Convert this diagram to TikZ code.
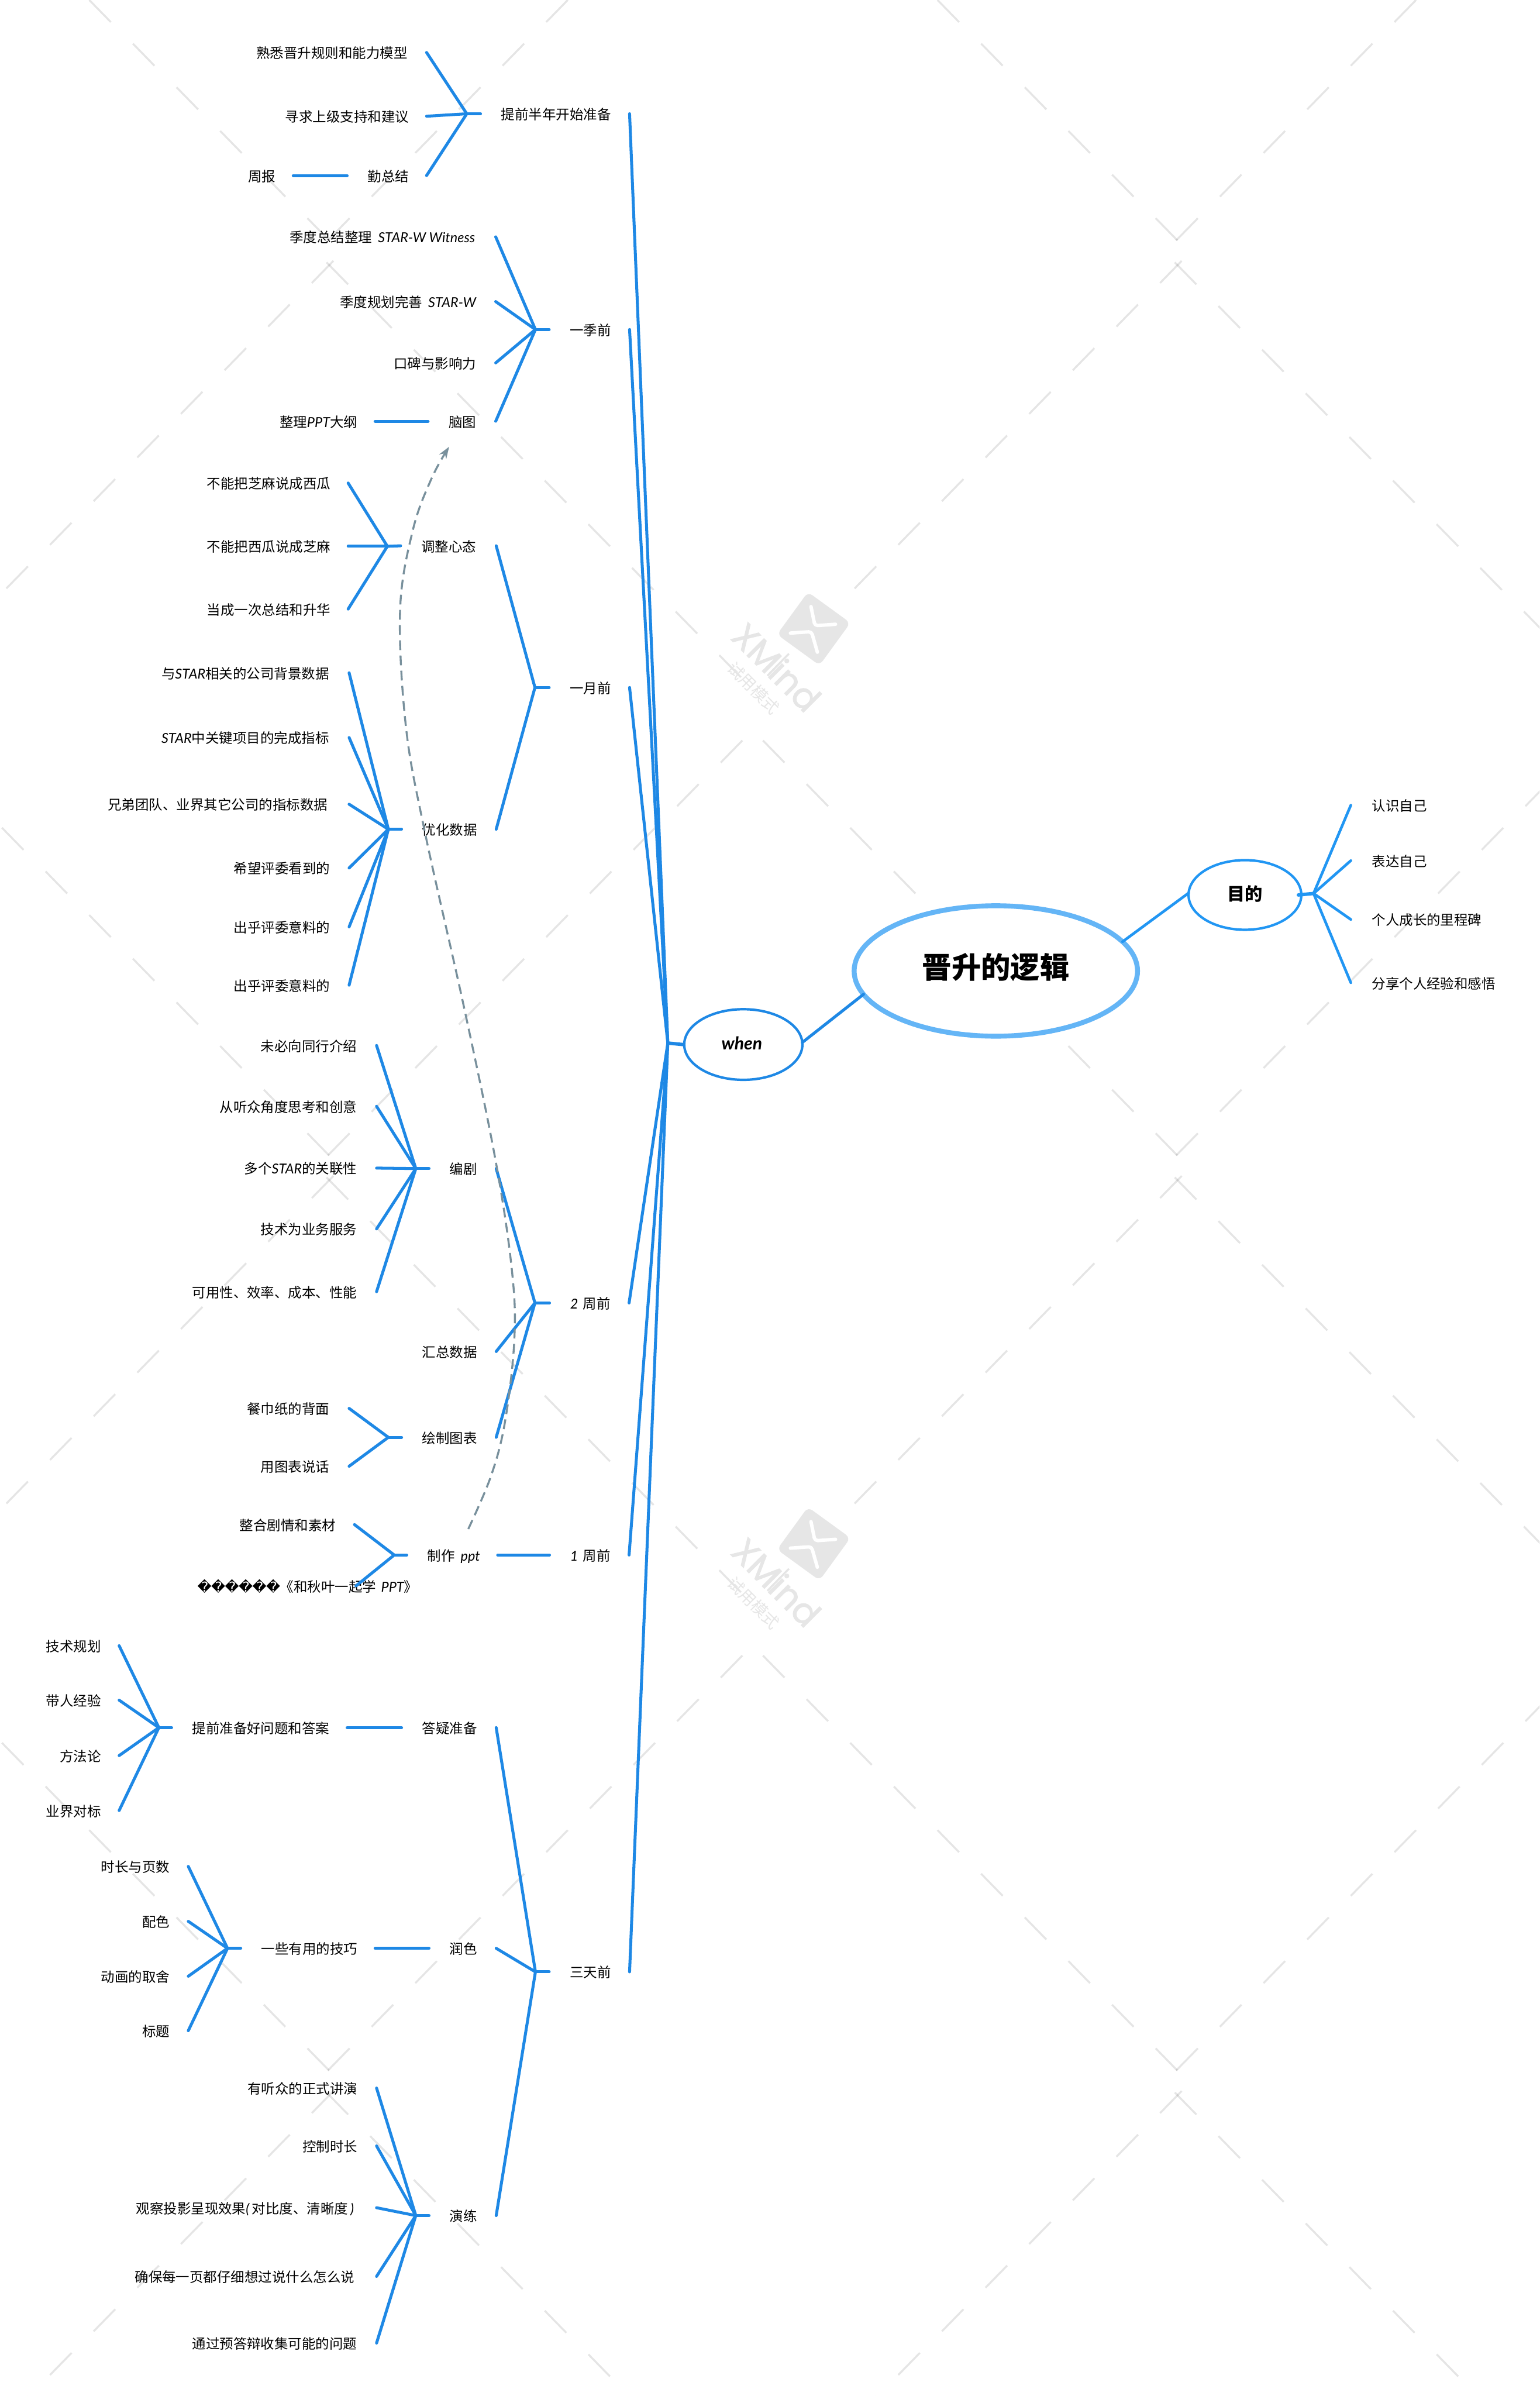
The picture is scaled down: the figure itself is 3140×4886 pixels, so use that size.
\documentclass[tikz,border=0pt]{standalone}
\usepackage{fontspec}
\setmainfont{Noto Sans CJK SC}
\newfontfamily\latfont{Lato}
\newfontfamily\dvfont{DejaVu Sans}
\newfontfamily\popfont[FakeBold=1.5]{Poppins}
\usetikzlibrary{shapes.geometric,arrows.meta}
\newcommand{\ltn}[1]{{\latfont\itshape #1}}
\newcommand{\unk}{\makebox[28pt]{\dvfont\symbol{"FFFD}}}
\tikzset{
  x=1pt,y=1pt,
  lab/.style={anchor=east,inner sep=0pt,outer sep=0pt,font=\fontsize{28pt}{30pt}\selectfont,text height=27.5pt,text depth=3.5pt,text=black,xshift=2pt},
  rlab/.style={lab,anchor=west},
  br/.style={line width=6pt,line cap=round,draw=branchblue},
  rbr/.style={br,line width=5.5pt,draw=rightblue},
  wm/.style={line width=4pt,draw=black,opacity=.1},
  wmtxt/.style={text=wmgray,inner sep=0pt},
  topic/.style={ellipse,draw=branchblue,line width=5pt,fill=white,inner sep=0pt,outer sep=0pt,align=center},
  rel/.style={line width=4pt,draw=relgray,dash pattern=on 20pt off 11pt,-{Stealth[length=24pt,width=17pt]}}
}
\definecolor{branchblue}{HTML}{1E88E5}
\definecolor{rightblue}{HTML}{2196F3}
\definecolor{rootblue}{HTML}{64B5F6}
\definecolor{relgray}{HTML}{78909C}
\definecolor{wmgray}{HTML}{E6E6E6}
% name, right x, y, line end x, junction, text
\newcommand{\kid}[6]{\node[lab] (#1) at (#2,-#3) {#6};
  \draw[br] ([xshift={#4-#2-2}]#1.east) -- (#5);}
\newcommand{\stub}[2]{\draw[br] ([xshift=-42]#1.west) -- (#2);}
\newcommand{\lnk}[2]{\draw[br] ([xshift=-42]#1.west) -- ([xshift=36]#2.east);}
\newcommand{\wlogo}[1]{%
  \begin{scope}[yshift=-#1]
    \node[rectangle,rounded corners=11pt,fill=wmgray,minimum size=107pt,inner sep=0pt,rotate=-36] (logo#1) at (1659.6,-1282) {};
    \draw[line width=7pt,line cap=round,line join=round,draw=white,rounded corners=6pt] (1654,-1237) -- (1662,-1276) -- (1704,-1273);
    \draw[line width=7pt,line cap=round,line join=round,draw=white,rounded corners=6pt] (1612,-1291) -- (1655,-1288) -- (1667,-1330);
    \node[wmtxt,rotate=-45,font=\popfont\fontsize{72pt}{74pt}\selectfont] (xm#1) at (1584,-1360) {XMind};
    \node[wmtxt,rotate=-45,font=\fontsize{33pt}{35pt}\selectfont] (try#1) at (1537,-1403) {试用模式};
  \end{scope}}
\begin{document}
\begin{tikzpicture}
\useasboundingbox (0,0) rectangle (3140,-4886);
\fill[white] (0,0) rectangle (3140,-4886);
\begin{scope}
\clip (0,0) rectangle (3140,-4886);
% watermark dashes, tile 1730 x 1866
\foreach \m in {-1,0,1}{
 \foreach \n in {-1,0,1,2}{
  \foreach \k in {0,...,9}{
   \draw[wm] ({666+89*\k+1730*\m},{-(535+89*\k+1866*\n)}) -- ++(44,-45);
   \draw[wm] ({666+89*(\k+10)+1730*\m},{-(620+89*(\k+10)+1866*\n)}) -- ++(44,-45);
  }}}
\foreach \m in {0,1}{
 \foreach \n in {0,1,2}{
  \foreach \k in {0,...,9}{
   \draw[wm] ({713+89*\k+1730*\m},{-(445-89*\k+1866*\n)}) -- ++(-44,-45);
   \draw[wm] ({680-89*\k+1730*\m},{-(532+89*\k+1866*\n)}) -- ++(-44,-45);
  }}}
\wlogo{0}
\wlogo{1866}
\end{scope}

% main topics
\node[topic,draw=rootblue,line width=10pt,minimum width=578pt,minimum height=266pt,font=\bfseries\fontsize{60pt}{62pt}\selectfont,text height=44pt,text depth=14pt] (root) at (2031,-1980) {晋升的逻辑};
\node[topic,draw=rightblue,minimum width=230pt,minimum height=142pt,font=\bfseries\fontsize{36pt}{38pt}\selectfont,text height=28pt,text depth=6pt] (goal) at (2539,-1825) {目的};
\node[topic,minimum width=241pt,minimum height=144pt,font=\latfont\bfseries\itshape\fontsize{36pt}{38pt}\selectfont,text height=30pt,text depth=8pt] (when) at (1516,-2130) {\hspace{-6pt}when};
\draw[rbr] (root.13) -- (goal.178);
\draw[br] (root.190.7) -- (when.2);

% right side
\coordinate (jR) at (2679,-1822);
\draw[rbr,line width=7pt] ([xshift=-6]goal.east) -- (jR);
\foreach \nm/\y/\t in {g1/1642/认识自己,g2/1755/表达自己,g3/1875/个人成长的里程碑,g4/2004/分享个人经验和感悟}{
  \node[rlab] (\nm) at (2796,-\y) {\t};
  \draw[rbr] ([xshift=-43]\nm.west) -- (jR);
}

% trunk
\coordinate (J) at (1362,-2127);
\draw[br,line width=7pt] ([xshift=-3]when.west) -- (J);

% level 1
\foreach \nm/\y/\t in {a/232/提前半年开始准备,b/672/一季前,c/1402/一月前,f/4021/三天前}{
  \node[lab] (\nm) at (1244,-\y) {\t};
  \draw[br] ([xshift=38]\nm.east) -- (J);
}
\node[lab] (d) at (1243,-2657) {\ltn{2}\hspace{10pt}周前};
\draw[br] ([xshift=38]d.east) -- (J);
\node[lab] (e) at (1243,-3171) {\ltn{1}\hspace{10pt}周前};
\draw[br] ([xshift=38]e.east) -- (J);

% A
\coordinate (ja) at (952,-232); \stub{a}{ja}
\kid{a1}{829}{107}{870}{ja}{熟悉晋升规则和能力模型}
\kid{a2}{832}{237}{870}{ja}{寻求上级支持和建议}
\kid{a3}{832}{358}{870}{ja}{勤总结}
\node[lab] (a31) at (560,-358) {周报};
\lnk{a3}{a31}

% B
\coordinate (jb) at (1092,-672); \stub{b}{jb}
\kid{b1}{967}{483}{1011}{jb}{季度总结整理\hspace{12pt}\ltn{STAR-W Witness}}
\kid{b2}{969}{615}{1011}{jb}{季度规划完善\hspace{12pt}\ltn{STAR-W}}
\kid{b3}{969}{740}{1011}{jb}{口碑与影响力}
\kid{b4}{969}{859}{1011}{jb}{脑图}
\node[lab] (b41) at (727,-859) {整理\ltn{PPT}大纲};
\lnk{b4}{b41}

% C
\coordinate (jc) at (1091,-1402); \stub{c}{jc}
\kid{c1}{969}{1113}{1012}{jc}{调整心态}
\kid{c2}{971}{1691}{1012}{jc}{优化数据}
\coordinate (jc1) at (790,-1114); \stub{c1}{jc1}
\kid{c11}{672}{985}{710}{jc1}{不能把芝麻说成西瓜}
\kid{c12}{672}{1114}{710}{jc1}{不能把西瓜说成芝麻}
\kid{c13}{672}{1242}{710}{jc1}{当成一次总结和升华}
\coordinate (jc2) at (792,-1691); \stub{c2}{jc2}
\kid{c21}{669}{1372}{712}{jc2}{与\ltn{STAR}相关的公司背景数据}
\kid{c22}{669}{1504}{712}{jc2}{\ltn{STAR}中关键项目的完成指标}
\kid{c23}{666}{1640}{712}{jc2}{兄弟团队、业界其它公司的指标数据}
\kid{c24}{671}{1770}{712}{jc2}{希望评委看到的}
\kid{c25}{671}{1890}{712}{jc2}{出乎评委意料的}
\kid{c26}{671}{2009}{712}{jc2}{出乎评委意料的}

% D
\coordinate (jd) at (1091,-2657); \stub{d}{jd}
\kid{d1}{971}{2383}{1012}{jd}{编剧}
\kid{d2}{971}{2756}{1012}{jd}{汇总数据}
\kid{d3}{971}{2931}{1012}{jd}{绘制图表}
\coordinate (jd1) at (848,-2383); \stub{d1}{jd1}
\kid{d11}{726}{2132}{768}{jd1}{未必向同行介绍}
\kid{d12}{726}{2256}{768}{jd1}{从听众角度思考和创意}
\kid{d13}{726}{2382}{768}{jd1}{多个\ltn{STAR}的关联性}
\kid{d14}{726}{2506}{768}{jd1}{技术为业务服务}
\kid{d15}{726}{2634}{768}{jd1}{可用性、效率、成本、性能}
\coordinate (jd3) at (792,-2931); \stub{d3}{jd3}
\kid{d31}{670}{2872}{712}{jd3}{餐巾纸的背面}
\kid{d32}{670}{2990}{712}{jd3}{用图表说话}

% E
\node[lab] (e1) at (977,-3171) {制作\hspace{12pt}\ltn{ppt}};
\lnk{e}{e1}
\coordinate (je1) at (804,-3171); \stub{e1}{je1}
\kid{e11}{683}{3109}{723}{je1}{整合剧情和素材}
\kid{e12}{850}{3234}{726}{je1}{\unk\unk\unk\unk\unk\unk《和秋叶一起学\hspace{10pt}\ltn{PPT}》}

% F
\coordinate (jf) at (1092,-4021); \stub{f}{jf}
\kid{f1}{971}{3523}{1012}{jf}{答疑准备}
\kid{f2}{971}{3973}{1012}{jf}{润色}
\kid{f3}{971}{4518}{1012}{jf}{演练}
\node[lab] (f11) at (670,-3523) {提前准备好问题和答案};
\lnk{f1}{f11}
\coordinate (jf11) at (324,-3523); \stub{f11}{jf11}
\kid{f111}{204}{3356}{243}{jf11}{技术规划}
\kid{f112}{204}{3467}{243}{jf11}{带人经验}
\kid{f113}{204}{3580}{243}{jf11}{方法论}
\kid{f114}{204}{3692}{243}{jf11}{业界对标}
\node[lab] (f21) at (727,-3973) {一些有用的技巧};
\lnk{f2}{f21}
\coordinate (jf21) at (464,-3973); \stub{f21}{jf21}
\kid{f211}{344}{3806}{384}{jf21}{时长与页数}
\kid{f212}{344}{3918}{384}{jf21}{配色}
\kid{f213}{344}{4030}{384}{jf21}{动画的取舍}
\kid{f214}{344}{4141}{384}{jf21}{标题}
\coordinate (jf3) at (848,-4518); \stub{f3}{jf3}
\kid{f31}{727}{4258}{768}{jf3}{有听众的正式讲演}
\kid{f32}{727}{4376}{768}{jf3}{控制时长}
\kid{f33}{720}{4502}{768}{jf3}{观察投影呈现效果\ltn{(}\hspace{5pt}对比度、清晰度\hspace{5pt}\ltn{)}}
\kid{f34}{721}{4642}{768}{jf3}{确保每一页都仔细想过说什么怎么说}
\kid{f35}{726}{4778}{768}{jf3}{通过预答辩收集可能的问题}

% relationship
\coordinate (rs) at (955,-3118);
\coordinate (re) at (916,-911);
\draw[rel] plot[smooth,tension=.6] coordinates {(rs) (1001,-3011) (1030,-2899) (1049,-2731) (1044,-2590) (1011,-2368) (947,-2057) (867,-1699) (828,-1483) (816,-1244) (842,-1081) (880,-976) (re)};
\end{tikzpicture}
\end{document}
